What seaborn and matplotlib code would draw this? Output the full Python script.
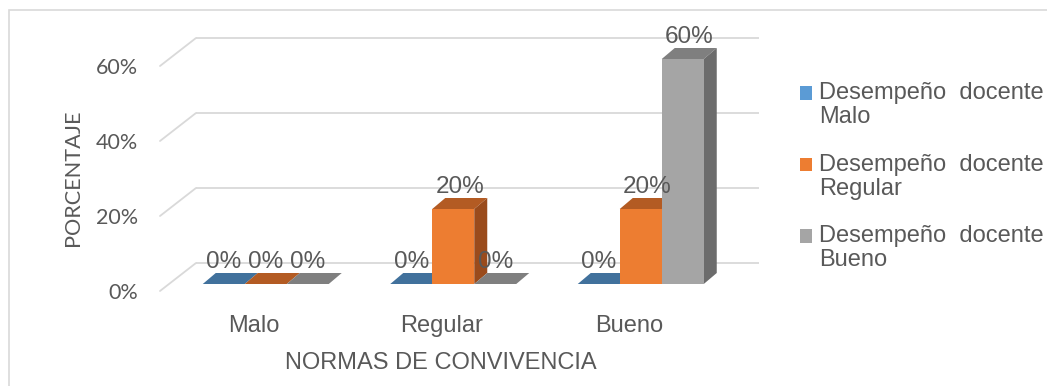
import numpy as np
import pandas as pd
import matplotlib
matplotlib.use("Agg")
import matplotlib.pyplot as plt
import seaborn as sns
from matplotlib.patches import Polygon, Rectangle, Patch
from matplotlib.transforms import ScaledTranslation

# ---- data -------------------------------------------------------------
categorias = ["Malo", "Regular", "Bueno"]
series = ["Desempeño docente Malo", "Desempeño docente Regular", "Desempeño docente Bueno"]
etiquetas_leyenda = ["Desempeño  docente\nMalo", "Desempeño  docente\nRegular",
                     "Desempeño  docente\nBueno"]
valores_malo = [0.0, 0.0, 0.0]
valores_regular = [0.0, 0.20, 0.20]
valores_bueno = [0.0, 0.0, 0.60]
ticks_y = [0.0, 0.2, 0.4, 0.6]
etiquetas_y = ["0%", "20%", "40%", "60%"]

# ---- colours ----------------------------------------------------------
colores_frente = ["#5B9BD5", "#ED7D31", "#A5A5A5"]
colores_tapa = ["#41719C", "#B35B23", "#7F7F7F"]
colores_lado = ["#3D6A93", "#9A4B1C", "#6C6C6C"]
gris_texto = "#595959"
gris_linea = "#D9D9D9"

df = pd.DataFrame({
    "categoria": categorias * 3,
    "serie": np.repeat(series, len(categorias)),
    "valor": valores_malo + valores_regular + valores_bueno,
})

sns.set_theme(style="white")
plt.rcParams["font.family"] = ["Liberation Sans", "DejaVu Sans"]

DPI = 100
W, H = 1047, 386
fig = plt.figure(figsize=(W / DPI, H / DPI), dpi=DPI)

# front plane of the 3-D floor, in pixels from the top-left corner
ax_l, ax_r, ax_t, ax_b = 160, 722.5, 66, 291
ax = fig.add_axes([ax_l / W, 1 - ax_b / H, (ax_r - ax_l) / W, (ax_b - ax_t) / H])

sns.barplot(data=df, x="categoria", y="valor", hue="serie", order=categorias,
            hue_order=series, palette=colores_frente, saturation=1, width=0.672,
            gap=0, linewidth=0, errorbar=None, legend=False, ax=ax)
ax.set_xlim(-0.5, 2.5)
ax.set_ylim(0, 0.6)

sx = (ax_r - ax_l) / 3.0          # px per category unit
sy = (ax_b - ax_t) / 0.6          # px per value unit

def shift(dx_px, dy_px):
    return ax.transData + ScaledTranslation(dx_px / DPI, dy_px / DPI, fig.dpi_scale_trans)

# wall depth, bar position inside the floor, bar depth (px)
wall_dx, wall_dy = 36, 28
bar_dx, bar_dy = 12, 7
prof_dx, prof_dy = 13, 11

# back wall gridlines plus the diagonal floor/side edges
for v in ticks_y:
    ax.plot([-0.5, 2.5], [v, v], transform=shift(wall_dx, wall_dy), color=gris_linea,
            lw=1.3, clip_on=False, zorder=0.5, solid_capstyle="butt")
    ax.plot([-0.5, -0.5 + wall_dx / sx], [v, v + wall_dy / sy], color=gris_linea,
            lw=1.3, clip_on=False, zorder=0.5)

# 3-D bars: front face from seaborn, plus top and side faces
trans_bar = shift(bar_dx, bar_dy)
ddx, ddy = prof_dx / sx, prof_dy / sy
barras = []
for cont, tapa, lado in zip(ax.containers, colores_tapa, colores_lado):
    for rect in cont:
        barras.append((rect, tapa, lado))
barras.sort(key=lambda b: b[0].get_x())

for i, (rect, tapa, lado) in enumerate(barras):
    z = 2 + i * 0.1
    x, w, h = rect.get_x(), rect.get_width(), rect.get_height()
    rect.set_transform(trans_bar)
    rect.set_clip_on(False)
    rect.set_zorder(z + 0.02)
    top = Polygon([(x, h), (x + w, h), (x + w + ddx, h + ddy), (x + ddx, h + ddy)],
                  closed=True, facecolor=tapa, edgecolor="none", transform=trans_bar,
                  clip_on=False, zorder=z)
    side = Polygon([(x + w, 0), (x + w + ddx, ddy), (x + w + ddx, h + ddy), (x + w, h)],
                   closed=True, facecolor=lado, edgecolor="none", transform=trans_bar,
                   clip_on=False, zorder=z + 0.01)
    ax.add_patch(top)
    ax.add_patch(side)
    xc = x + w / 2 + (ddx / 2 if h > 0 else 0)
    ax.text(xc, h, f"{h:.0%}", transform=shift(bar_dx, bar_dy + prof_dy + 5),
            ha="center", va="baseline", fontsize=17.5, color=gris_texto, zorder=10)

# axes styling
for s in ax.spines.values():
    s.set_visible(False)
ax.grid(False)
ax.set_yticks(ticks_y, etiquetas_y)
ax.tick_params(axis="y", length=0, pad=16, labelsize=15.5, labelcolor=gris_texto)
ax.tick_params(axis="x", length=0, pad=17, labelsize=17, labelcolor=gris_texto)
for t in ax.get_yticklabels():
    t.set_fontfamily(["Lato", "DejaVu Sans"])

ax.set_xlabel("NORMAS DE CONVIVENCIA", fontsize=17, color=gris_texto)
ax.xaxis.set_label_coords(0.5, (ax_b - 363) / (ax_b - ax_t))
ax.xaxis.label.set_verticalalignment("center")
ax.set_ylabel("PORCENTAJE", fontsize=15.6, color=gris_texto, fontfamily=["Lato", "DejaVu Sans"])
ax.yaxis.set_label_coords((73 - ax_l) / (ax_r - ax_l), (ax_b - 178) / (ax_b - ax_t))
ax.yaxis.label.set_verticalalignment("center")

# legend: two-line labels with the colour key beside the first line
handles = [Patch(facecolor=c, edgecolor="none") for c in colores_frente]
leg = fig.legend(handles, etiquetas_leyenda, loc="upper left",
                 bbox_to_anchor=(800 / W, 1 - 82 / H), frameon=False, fontsize=17,
                 handlelength=0.5, handleheight=0.5, handletextpad=0.3,
                 labelspacing=1.08, borderpad=0, borderaxespad=0, labelcolor=gris_texto)
for t in leg.get_texts():
    t.set_linespacing(1.12)

fig.canvas.draw()
renderer = fig.canvas.get_renderer()
for t, hnd in zip(leg.get_texts(), leg.legend_handles):
    primera = t.get_text().split("\n")[0]
    probe = fig.text(0, 0, primera, fontsize=17)
    h_uno = probe.get_window_extent(renderer).height
    probe.remove()
    caja = t.get_window_extent(renderer)
    objetivo = caja.y1 - h_uno * 0.5           # middle of the first text line
    actual = hnd.get_window_extent(renderer)
    centro = 0.5 * (actual.y0 + actual.y1)
    hnd.set_y(hnd.get_y() + (objetivo - centro) * 72.0 / DPI)

# outer chart frame
fig.add_artist(Rectangle((9 / W, -0.2), 2, 1.2 - 10 / H, transform=fig.transFigure,
                         fill=False, edgecolor=gris_linea, lw=1.2))

fig.savefig("out.png", dpi=DPI)
